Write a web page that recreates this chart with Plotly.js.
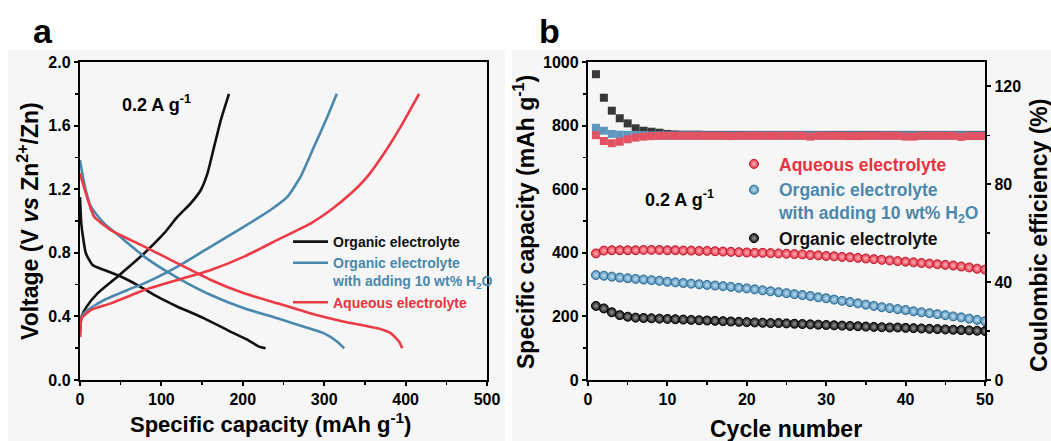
<!DOCTYPE html>
<html>
<head>
<meta charset="utf-8">
<script src="https://cdn.plot.ly/plotly-3.0.1.min.js"></script>
<style>html,body{margin:0;padding:0;background:#fff;}#chart{width:1051px;height:441px;}</style>
</head>
<body>
<div id="chart"></div>
<script>
// ---------- Panel a: galvanostatic charge/discharge profiles ----------
const orgDisCap  = [0, 1.5, 3.1, 7.2, 15.4, 29.7, 46, 70.6, 95, 119.8, 152.5, 181, 206, 220, 228];
const orgDisV    = [1.15, 0.99, 0.92, 0.797, 0.723, 0.692, 0.66, 0.597, 0.524, 0.461, 0.388, 0.314, 0.252, 0.21, 0.20];
const orgChCap   = [0, 0.5, 2, 8, 21.5, 46, 79, 103.4, 119.8, 136, 148.4, 156.6, 164.8, 173, 183];
const orgChV     = [0.30, 0.35, 0.40, 0.46, 0.545, 0.65, 0.797, 0.923, 1.027, 1.111, 1.195, 1.30, 1.468, 1.635, 1.80];

const watDisCap  = [0, 5.1, 13.3, 29.7, 54, 79, 103.4, 132, 160.7, 201.6, 242.6, 275, 300, 316, 324.6];
const watDisV    = [1.384, 1.237, 1.09, 0.985, 0.881, 0.776, 0.692, 0.608, 0.535, 0.451, 0.388, 0.335, 0.293, 0.241, 0.20];
const watChCap   = [0, 0.6, 1.8, 9.2, 29.7, 58.3, 79, 119.8, 160.7, 201.6, 234, 255, 271, 287.6, 304, 315.5];
const watChV     = [0.27, 0.34, 0.398, 0.44, 0.503, 0.566, 0.608, 0.713, 0.839, 0.965, 1.069, 1.153, 1.279, 1.468, 1.657, 1.80];

const aqDisCap   = [0, 7.2, 17.4, 38, 79, 119.8, 160.7, 201.6, 242.6, 283.5, 324.6, 365.6, 382, 392, 396];
const aqDisV     = [1.30, 1.174, 1.027, 0.943, 0.839, 0.734, 0.629, 0.545, 0.482, 0.419, 0.367, 0.325, 0.293, 0.241, 0.20];
const aqChCap    = [0, 0.6, 1.8, 13.3, 38, 79, 119.8, 160.7, 201.6, 242.6, 283.5, 308, 333, 353, 373.6, 394, 416.6];
const aqChV      = [0.27, 0.33, 0.388, 0.44, 0.482, 0.566, 0.629, 0.692, 0.776, 0.881, 0.985, 1.069, 1.174, 1.279, 1.426, 1.594, 1.80];

// ---------- Panel b: cycling performance ----------
const cycles = [1,2,3,4,5,6,7,8,9,10,11,12,13,14,15,16,17,18,19,20,21,22,23,24,25,26,27,28,29,30,31,32,33,34,35,36,37,38,39,40,41,42,43,44,45,46,47,48,49,50];
const aqCapacity = [398,407,408,408,408,408,409,409,409,408, 408,407,407,406,406,405,404,403,402,401, 400,400,399,398,397,396,395,393,392,390, 389,387,386,384,382,380,378,376,374,372, 370,368,366,364,362,360,357,354,350,347];
const watCapacity = [330,328,325,322,320,318,316,314,312,309, 307,305,303,301,299,297,295,293,290,288, 285,282,279,276,273,270,267,264,260,257, 253,249,245,241,237,233,229,226,223,220, 216,213,210,207,204,200,197,193,189,185];
const orgCapacity = [233,225,213,204,199,196,195,194,193,192, 191,190,189,188,187,186,185,184,183,182, 181,180,179,179,178,177,176,175,174,173, 172,171,170,169,168,167,166,165,165,164, 163,162,161,160,159,158,157,156,155,154];
const orgCE = [125.0,115.4,110.1,107.0,104.9,102.9,101.9,101.5,101.1,100.6, 100.4,100.3,100.3,100.3,100.2,100.2,100.2,100.2,100.2,100.2, 100.2,100.2,100.2,100.2,100.2,100.2,100.2,100.2,100.2,100.2, 100.2,100.2,100.2,100.2,100.2,100.2,100.2,100.2,100.2,100.2, 100.2,100.2,100.2,100.2,100.2,100.2,100.2,100.2,100.2,100.2];
const watCE = [103.1,101.9,100.6,100.3,100.2,100.2,100.1,100.0,100.0,100.0, 100.0,100.0,100.0,100.0,100.0,100.0,100.0,100.0,100.0,100.0, 100.0,100.0,100.0,100.0,100.0,100.0,100.0,100.0,100.0,100.0, 100.0,100.0,100.0,100.0,100.0,100.0,100.0,100.0,100.0,100.0, 100.0,100.0,100.0,100.0,100.0,100.0,100.0,100.0,100.0,100.0];
const aqCE = [100.1,97.7,96.8,97.4,98.4,99.1,99.5,99.7,99.8,99.8, 99.8,99.8,99.8,99.8,99.8,99.8,99.8,99.7,99.8,99.8, 99.8,99.8,99.8,99.8,99.8,99.8,99.8,99.5,99.8,99.8, 99.8,99.8,99.7,99.7,99.8,99.8,99.8,99.8,99.8,99.5, 99.5,99.8,99.8,99.8,99.8,99.8,99.4,99.7,99.7,99.7];

const labelAq  = 'Aqueous electrolyte';
const labelWat = 'Organic electrolyte<br>with adding 10 wt% H<sub>2</sub>O';
const labelOrg = 'Organic electrolyte';

const BLACK = '#111111', BLUE = '#4a88ad', RED = '#ec3b47';
const FONT = 'Liberation Sans, Arial, sans-serif';

function lineTrace(x, y, color, name, show, legendTextColor) {
  return {
    type: 'scatter', mode: 'lines', x: x, y: y, xaxis: 'x', yaxis: 'y',
    line: {color: color, width: 2.6, shape: 'spline', smoothing: 0.5},
    name: '<span style="color:' + legendTextColor + '">' + name + '</span>',
    showlegend: show, legend: 'legend', hoverinfo: 'skip'
  };
}
function ceTrace(y, color) {
  return {type: 'scatter', mode: 'markers', x: cycles, y: y, xaxis: 'x2', yaxis: 'y3',
    marker: {symbol: 'square', size: 8, color: color}, showlegend: false, hoverinfo: 'skip'};
}
function capTrace(y, color, light, edge, name, textColor) {
  return {type: 'scatter', mode: 'markers', x: cycles, y: y, xaxis: 'x2', yaxis: 'y2',
    marker: {symbol: 'circle', size: 9, color: color, gradient: {type: 'radial', color: light}, line: {color: edge, width: 1}},
    name: '<span style="color:' + textColor + '">' + name + '</span>',
    showlegend: true, legend: 'legend2', hoverinfo: 'skip'};
}

const data = [
  lineTrace(orgDisCap, orgDisV, BLACK, labelOrg, true, '#111111'),
  lineTrace(orgChCap, orgChV, BLACK, labelOrg, false, '#111111'),
  lineTrace(watDisCap, watDisV, BLUE, labelWat, true, '#4a88ad'),
  lineTrace(watChCap, watChV, BLUE, labelWat, false, '#4a88ad'),
  lineTrace(aqDisCap, aqDisV, RED, labelAq, true, '#e8333f'),
  lineTrace(aqChCap, aqChV, RED, labelAq, false, '#e8333f'),
  ceTrace(orgCE, '#383838'),
  ceTrace(watCE, '#5f98bf'),
  ceTrace(aqCE, '#e25262'),
  capTrace(aqCapacity, '#e83446', '#ffb3bb', '#b81c2c', labelAq, '#e8333f'),
  capTrace(watCapacity, '#4e8db7', '#bfe0f2', '#2f6a90', labelWat, '#4a88ad'),
  capTrace(orgCapacity, '#151515', '#9a9a9a', '#000000', labelOrg, '#111111')
];

// layout geometry: margins put the plot area at x 80..985, y 62..380
const L = 80, T = 62, W = 905, H = 318;
const px = v => (v - L) / W;
const py = v => (T + H - v) / H;

const tickFont = {family: FONT, size: 16, color: '#000', weight: 'bold'};
const titleFont = {family: FONT, size: 23, color: '#000', weight: 'bold'};
const titleFontA = {family: FONT, size: 22, color: '#000', weight: 'bold'};
const axisCommon = {
  showgrid: false, zeroline: false, showline: true, linecolor: '#000', linewidth: 2.2,
  ticks: 'outside', ticklen: 4, tickwidth: 2, tickcolor: '#000', tickfont: tickFont
};
const minorTicks = d => ({dtick: d, ticks: 'outside', ticklen: 3, tickwidth: 1.5, tickcolor: '#000', showgrid: false});

const layout = {
  width: 1051, height: 441,
  margin: {l: L, r: 1051 - L - W, t: T, b: 441 - T - H, pad: 0},
  paper_bgcolor: '#ffffff', plot_bgcolor: '#f7f7f7',
  font: {family: FONT, color: '#000'},
  xaxis: Object.assign({}, axisCommon, {
    domain: [0, px(487)], range: [0, 500], dtick: 100, tick0: 0, mirror: true, anchor: 'y',
    minor: minorTicks(50)
  }),
  yaxis: Object.assign({}, axisCommon, {
    domain: [0, 1], range: [0, 2], dtick: 0.4, tick0: 0, tickformat: '.1f', mirror: true, anchor: 'x',
    minor: minorTicks(0.2)
  }),
  xaxis2: Object.assign({}, axisCommon, {
    domain: [px(588), 1], range: [0, 50], dtick: 10, tick0: 0, mirror: true, anchor: 'y2',
    minor: minorTicks(5)
  }),
  yaxis2: Object.assign({}, axisCommon, {
    domain: [0, 1], range: [0, 1000], dtick: 200, tick0: 0, anchor: 'x2', mirror: false,
    minor: minorTicks(100)
  }),
  yaxis3: Object.assign({}, axisCommon, {
    overlaying: 'y2', side: 'right', anchor: 'x2', range: [0, 130], tickvals: [0, 40, 80, 120],
    minor: minorTicks(20)
  }),
  legend: {
    x: px(288), y: py(226), xanchor: 'left', yanchor: 'top', bgcolor: 'rgba(0,0,0,0)',
    font: {family: FONT, size: 14, weight: 'bold'}, valign: 'top', tracegroupgap: 0, itemwidth: 35
  },
  legend2: {
    x: px(729), y: py(146), xanchor: 'left', yanchor: 'top', bgcolor: 'rgba(0,0,0,0)',
    font: {family: FONT, size: 17.5, weight: 'bold'}, valign: 'top', tracegroupgap: 0, itemwidth: 40
  },
  shapes: [
    {type: 'rect', xref: 'paper', yref: 'paper', x0: px(8), x1: px(505), y0: py(441), y1: py(50), fillcolor: '#f6f6f6', line: {width: 0}, layer: 'below'},
    {type: 'rect', xref: 'paper', yref: 'paper', x0: px(512), x1: px(1051), y0: py(441), y1: py(50), fillcolor: '#f6f6f6', line: {width: 0}, layer: 'below'}
  ],
  annotations: [
    {xref: 'paper', yref: 'paper', x: px(43), y: py(31), xanchor: 'center', yanchor: 'middle', text: 'a', showarrow: false, font: {family: FONT, size: 34, weight: 'bold', color: '#000'}},
    {xref: 'paper', yref: 'paper', x: px(549), y: py(31), xanchor: 'center', yanchor: 'middle', text: 'b', showarrow: false, font: {family: FONT, size: 34, weight: 'bold', color: '#000'}},
    {xref: 'x', yref: 'y', x: 49, y: 1.74, xanchor: 'left', yanchor: 'middle', text: '0.2 A g<sup>-1</sup>', showarrow: false, font: {family: FONT, size: 18, weight: 'bold', color: '#000'}},
    {xref: 'x2', yref: 'y2', x: 6.9, y: 572, xanchor: 'left', yanchor: 'middle', text: '0.2 A g<sup>-1</sup>', showarrow: false, font: {family: FONT, size: 18, weight: 'bold', color: '#000'}},
    // axis titles
    {xref: 'paper', yref: 'paper', x: px(270), y: py(423), xanchor: 'center', yanchor: 'middle', text: 'Specific capacity (mAh g<sup>-1</sup>)', showarrow: false, font: titleFontA},
    {xref: 'paper', yref: 'paper', x: px(28), y: py(221), xanchor: 'center', yanchor: 'middle', textangle: -90, text: 'Voltage (V <i>vs</i> Zn<sup>2+</sup>/Zn)', showarrow: false, font: titleFont},
    {xref: 'paper', yref: 'paper', x: px(786), y: py(429), xanchor: 'center', yanchor: 'middle', text: 'Cycle number', showarrow: false, font: titleFont},
    {xref: 'paper', yref: 'paper', x: px(524), y: py(222), xanchor: 'center', yanchor: 'middle', textangle: -90, text: 'Specific capacity (mAh g<sup>-1</sup>)', showarrow: false, font: titleFont},
    {xref: 'paper', yref: 'paper', x: px(1039), y: py(236), xanchor: 'center', yanchor: 'middle', textangle: -90, text: 'Coulombic efficiency (%)', showarrow: false, font: titleFont}
  ]
};

Plotly.newPlot('chart', data, layout, {displayModeBar: false, staticPlot: true});
</script>
</body>
</html>
